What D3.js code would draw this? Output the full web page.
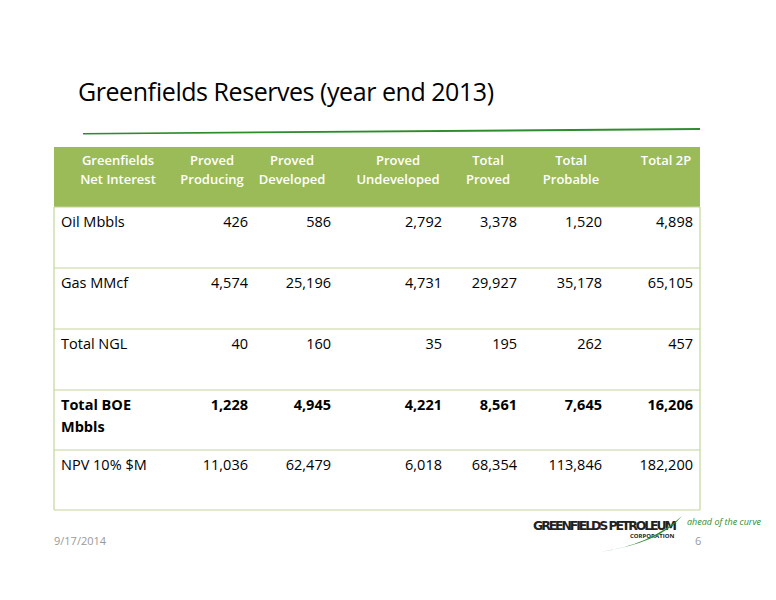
<!DOCTYPE html>
<html><head><meta charset="utf-8">
<script src="https://cdn.jsdelivr.net/npm/d3@7"></script>
<style>body{margin:0;background:#fff}</style>
</head><body><svg id="c" width="776" height="600"></svg>
<script>
const headers = [["Greenfields","Net Interest"],["Proved","Producing"],["Proved","Developed"],["Proved","Undeveloped"],["Total","Proved"],["Total","Probable"],["Total 2P"]];
const rowLabels = [["Oil Mbbls"],["Gas MMcf"],["Total NGL"],["Total BOE","Mbbls"],["NPV 10% $M"]];
const oil = [426, 586, 2792, 3378, 1520, 4898];
const gas = [4574, 25196, 4731, 29927, 35178, 65105];
const ngl = [40, 160, 35, 195, 262, 457];
const boe = [1228, 4945, 4221, 8561, 7645, 16206];
const npv = [11036, 62479, 6018, 68354, 113846, 182200];
const rows = [oil, gas, ngl, boe, npv];

const svg = d3.select("#c");
const font = "Open Sans, Noto Sans, sans-serif";
const left = 54, right = 700;
const rowEdges = [147, 207, 268, 329, 390, 450, 510];
const headerX = [118, 212, 292, 398, 488, 571, 666];
const rightX = [248, 331, 442, 517, 602, 693];
const fmt = d3.format(",");

// title
svg.append("text").attr("x", 78).attr("y", 101).attr("font-family", font)
  .attr("font-size", 25).attr("fill", "#000").attr("textLength", 416).text("Greenfields Reserves (year end 2013)");
svg.append("path").attr("d", "M83,133 L700,128 L700,130 L83,134.5 Z").attr("fill", "#2e8b2e");

// header
svg.append("rect").attr("x", left).attr("y", rowEdges[0])
  .attr("width", right - left).attr("height", rowEdges[1] - rowEdges[0]).attr("fill", "#9bbb59");
headers.forEach((h, i) => {
  const t = svg.append("text").attr("font-family", font).attr("font-size", 13).attr("font-weight", 600)
    .attr("fill", "#fff").attr("text-anchor", "middle");
  h.forEach((s, j) => t.append("tspan").attr("x", headerX[i]).attr("y", 165 + j * 19)
    .attr("textLength", null).text(s));
});

// row lines
rowEdges.slice(1).forEach(y => svg.append("line").attr("x1", left).attr("x2", right)
  .attr("y1", y).attr("y2", y).attr("stroke", "#c3d69b").attr("stroke-width", 1.2));
[left, right].forEach(x => svg.append("line").attr("x1", x).attr("x2", x)
  .attr("y1", rowEdges[1]).attr("y2", rowEdges[6]).attr("stroke", "#c3d69b").attr("stroke-width", 1.2));

rows.forEach((vals, r) => {
  const bold = r === 3 ? 700 : 400;
  const y = rowEdges[r + 1] + 20;
  const lt = svg.append("text").attr("font-family", font).attr("font-size", 14.5).attr("font-weight", bold).attr("fill", "#000");
  rowLabels[r].forEach((s, j) => lt.append("tspan").attr("x", 61).attr("y", y + j * 22).text(s));
  vals.forEach((v, c) => svg.append("text").attr("x", rightX[c]).attr("y", y).attr("text-anchor", "end")
    .attr("font-family", font).attr("font-size", 14.5).attr("font-weight", bold).attr("fill", "#000").text(fmt(v)));
});

// footer
svg.append("text").attr("x", 54).attr("y", 545).attr("font-family", font).attr("font-size", 11).attr("fill", "#999").text("9/17/2014");
svg.append("text").attr("x", 695).attr("y", 545).attr("font-family", font).attr("font-size", 11).attr("fill", "#999").text("6");
svg.append("text").attr("x", 533).attr("y", 530).attr("font-family", "DejaVu Sans, sans-serif").attr("font-size", 12.5)
  .attr("font-weight", 700).attr("fill", "#222").attr("textLength", 144).text("GREENFIELDS PETROLEUM");
svg.append("text").attr("x", 630).attr("y", 538).attr("font-family", font).attr("font-size", 6).attr("font-weight", 700).attr("fill", "#222").text("CORPORATION");
svg.append("path").attr("d", "M600,552 Q650,545 682,516 Q660,543 600,552 Z").attr("fill", "#2e8b2e");
svg.append("text").attr("x", 687).attr("y", 525).attr("font-family", font).attr("font-size", 9).attr("font-style", "italic").attr("fill", "#2e8b2e").text("ahead of the curve");
</script></body></html>
